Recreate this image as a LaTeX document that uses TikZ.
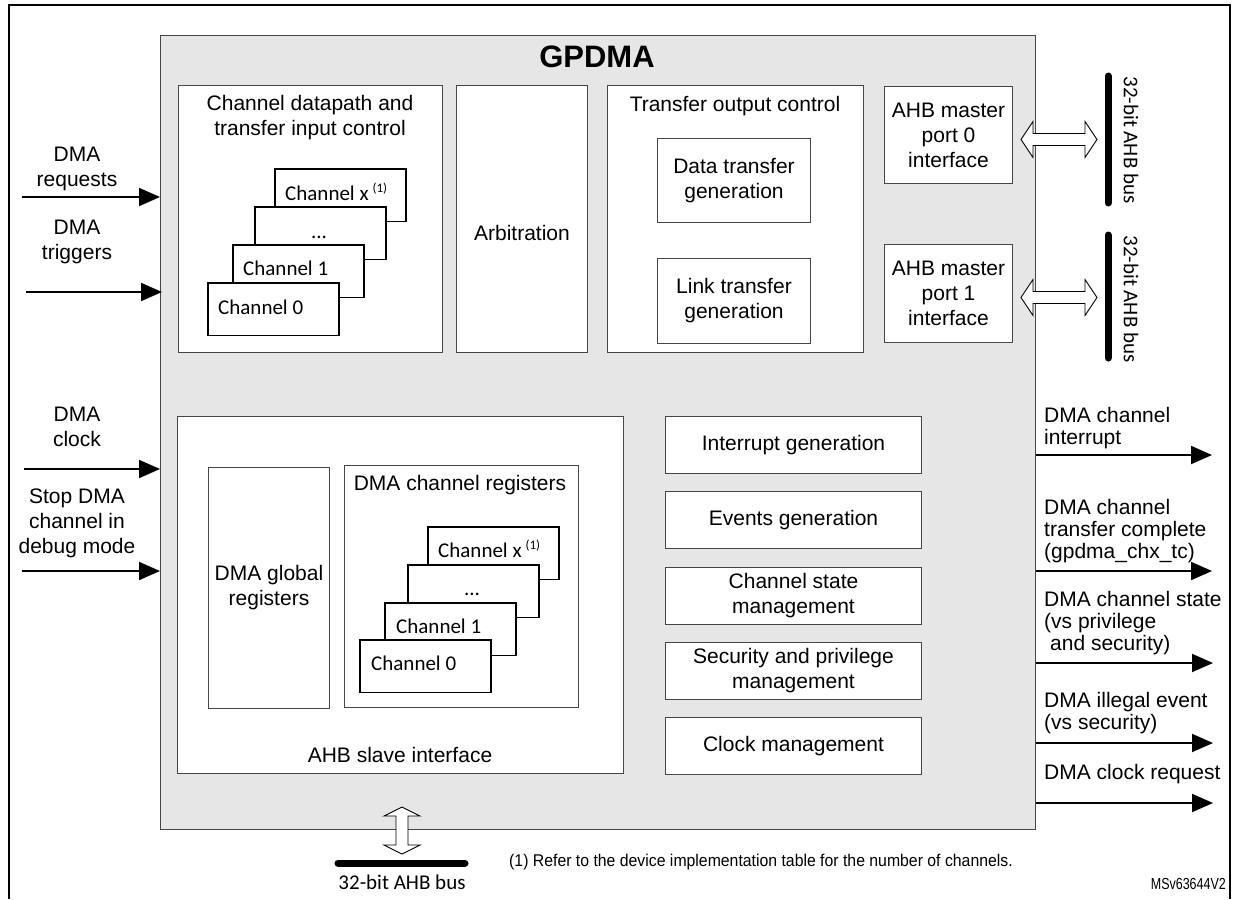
\documentclass[tikz,border=0pt]{standalone}
\usepackage{fontspec}
\usepackage{graphicx}
\setmainfont{Liberation Sans}
\newfontfamily\carlito{Carlito}
\usetikzlibrary{arrows.meta,calc}
\definecolor{bg}{RGB}{230,230,230}
\definecolor{edge}{RGB}{70,70,70}
\tikzset{
 fs/.style={font=\fontsize{21}{25}\selectfont},
 blk/.style={draw=edge, line width=1pt, fill=white, anchor=north west, inner sep=0, fs, align=center},
 chbox/.style={draw=black, line width=1.6pt, fill=white, anchor=north west, minimum width=131pt, minimum height=52.5pt, inner sep=0},
 chtxt/.style={anchor=base west, inner sep=0, font=\carlito\fontsize{21}{21}\selectfont},
 lbl/.style={inner sep=0, fs, align=center},
 inarr/.style={line width=2pt, -{Triangle[length=21pt,width=18pt]}},
 bus/.style={line width=7pt, line cap=round},
 hollow/.style={draw=black, line width=0.9pt, fill=white, line join=miter},
 outlbl/.style={inner sep=0, anchor=north west, align=left, font=\fontsize{21}{22}\selectfont},
 buslbl/.style={inner sep=0, font=\carlito\fontsize{21}{21}\selectfont},
}
\newcommand\hollowH[2]{\draw[hollow] let \p1=(#1), \p2=(#2) in (\x1,\y1) -- ++(12pt,18pt) -- ++(0,-12pt) -- (\x2-12pt,\y1+6pt) -- ++(0,12pt) -- (\x2,\y1) -- ++(-12pt,-18pt) -- ++(0,12pt) -- (\x1+12pt,\y1-6pt) -- ++(0,-12pt) -- cycle;}
\newcommand\hollowV[2]{\draw[hollow] let \p1=(#1), \p2=(#2) in (\x1,\y1) -- ++(18pt,-9pt) -- ++(-12pt,0) -- (\x1+6pt,\y2+9pt) -- ++(12pt,0) -- (\x1,\y2) -- ++(-18pt,9pt) -- ++(12pt,0) -- (\x1-6pt,\y1-9pt) -- ++(-12pt,0) -- cycle;}
\newcommand\supone{\hspace{4pt}\raisebox{8pt}{\fontsize{13}{13}\selectfont(1)}}
\begin{document}
\begin{tikzpicture}[x=1pt,y=-1pt]
\useasboundingbox (0,0) rectangle (1236,899);
% outer frame
\draw[line width=2.2pt] (9,899) -- (9,5) -- (1230,5) -- (1230,899);

% GPDMA block
\node[draw=edge, fill=bg, line width=1pt, anchor=north west, minimum width=875pt, minimum height=794pt, inner sep=0] (gp) at (160,35) {};
\node[inner sep=0, font=\bfseries\fontsize{31}{31}\selectfont] (title) at (597,57) {GPDMA};

% Channel datapath
\node[blk, minimum width=264pt, minimum height=267pt] (cdp) at (178,85) {};
\node[lbl, anchor=north] (cdpt) at (310,95.5) {Channel datapath and\\transfer input control};
\node[chbox] (chx) at (274,168) {};
\node[chbox] (chd) at (254,206) {};
\node[chbox] (ch1) at (232,244) {};
\node[chbox] (ch0) at (207,282) {};
\node[chtxt] (chxt) at ($(chx.north west)+(11,32)$) {Channel x\supone};
\node[chtxt, anchor=base] (chdt) at ($(chd.north west)+(65,32)$) {...};
\node[chtxt] (ch1t) at ($(ch1.north west)+(11,31)$) {Channel 1};
\node[chtxt] (ch0t) at ($(ch0.north west)+(11,32)$) {Channel 0};

% Arbitration
\node[blk, minimum width=131pt, minimum height=267pt] (arb) at (456,85) {};
\node[lbl] (arbt) at (522,233) {Arbitration};

% Transfer output control
\node[blk, minimum width=256pt, minimum height=267pt] (toc) at (607,85) {};
\node[lbl, anchor=north] (toct) at (735,96.5) {Transfer output control};
\node[blk, minimum width=153pt, minimum height=84pt] (dtg) at (657,138) {Data transfer\\generation};
\node[blk, minimum width=153pt, minimum height=85pt] (ltg) at (657,258) {Link transfer\\generation};

% AHB master ports
\node[blk, minimum width=128pt, minimum height=97pt] (ahb0) at (884,86) {AHB master\\port 0\\interface};
\node[blk, minimum width=128pt, minimum height=98pt] (ahb1) at (884,244) {AHB master\\port 1\\interface};

% buses on the right
\coordinate (b0t) at (1108,76); \coordinate (b0b) at (1108,203);
\coordinate (b1t) at (1108,235); \coordinate (b1b) at (1108,358);
\draw[bus] (b0t) -- (b0b);
\draw[bus] (b1t) -- (b1b);
\node[buslbl, rotate=-90] (bl0) at (1131,140) {32-bit AHB bus};
\node[buslbl, rotate=-90] (bl1) at (1131,299) {32-bit AHB bus};
\coordinate (a0l) at ($(ahb0.east)+(8,4.5)$);
\coordinate (a0r) at ($(b0t |- a0l)+(-11,0)$);
\coordinate (a1l) at ($(ahb1.east)+(8,4)$);
\coordinate (a1r) at ($(b1t |- a1l)+(-11,0)$);
\hollowH{a0l}{a0r}
\hollowH{a1l}{a1r}

% AHB slave interface
\node[blk, minimum width=446pt, minimum height=357pt] (ahbs) at (177,416) {};
\node[lbl] (ahbst) at (400,755) {AHB slave interface};
\node[blk, minimum width=121pt, minimum height=241pt] (dgr) at (208,467) {DMA global\\registers};
\node[blk, minimum width=234pt, minimum height=242pt] (dcr) at (344,465) {};
\node[lbl, anchor=north] (dcrt) at (460,475.5) {DMA channel registers};
\node[chbox] (rchx) at (427,526) {};
\node[chbox] (rchd) at (407,564) {};
\node[chbox] (rch1) at (384,602) {};
\node[chbox] (rch0) at (359,639) {};
\node[chtxt] (rchxt) at ($(rchx.north west)+(11,31)$) {Channel x\supone};
\node[chtxt, anchor=base] (rchdt) at ($(rchd.north west)+(65,31)$) {...};
\node[chtxt] (rch1t) at ($(rch1.north west)+(12,31)$) {Channel 1};
\node[chtxt] (rch0t) at ($(rch0.north west)+(12,31)$) {Channel 0};

% right column modules
\node[blk, minimum width=256pt, minimum height=57pt] (intg) at (665,416) {Interrupt generation};
\node[blk, minimum width=256pt, minimum height=57pt] (evg) at (665,491) {Events generation};
\node[blk, minimum width=256pt, minimum height=57pt] (csm) at (665,567) {Channel state\\management};
\node[blk, minimum width=256pt, minimum height=57pt] (spm) at (665,642) {Security and privilege\\management};
\node[blk, minimum width=256pt, minimum height=57pt] (clm) at (665,717) {Clock management};

% bottom bus
\coordinate (b2l) at (338,863); \coordinate (b2r) at (465,863);
\draw[bus] (b2l) -- (b2r);
\coordinate (a2t) at (402,807);
\coordinate (a2b) at ($(b2l -| a2t)+(0,-9)$);
\hollowV{a2t}{a2b}
\node[buslbl] (bl2) at (402,882) {32-bit AHB bus};

% left inputs
\node[lbl, anchor=north] (l1) at (77,147) {DMA\\requests};
\node[lbl, anchor=north] (l2) at (77,220) {DMA\\triggers};
\node[lbl, anchor=north] (l3) at (77,407) {DMA\\clock};
\node[lbl, anchor=north] (l4) at (77,489) {Stop DMA\\channel in\\debug mode};
\coordinate (i1) at (22,197);
\coordinate (i2) at (26,292);
\coordinate (i3) at (24,469);
\coordinate (i4) at (22,571);
\draw[inarr] (i1) -- (i1 -| gp.west);
\draw[inarr] (i2) -- ($(i2 -| gp.west)+(2,0)$);
\draw[inarr] (i3) -- (i3 -| gp.west);
\draw[inarr] (i4) -- (i4 -| gp.west);

% right outputs
\coordinate (o1) at (1212,455);
\coordinate (o2) at (1212,571);
\coordinate (o3) at (1213,663);
\coordinate (o4) at (1213,743);
\coordinate (o5) at (1213,803);
\draw[inarr] (o1 -| gp.east) -- (o1);
\draw[inarr] (o2 -| gp.east) -- (o2);
\draw[inarr] (o3 -| gp.east) -- (o3);
\draw[inarr] (o4 -| gp.east) -- (o4);
\draw[inarr] (o5 -| gp.east) -- (o5);
\node[outlbl] (r1) at (1044,407) {DMA channel\\interrupt};
\node[outlbl] (r2) at (1044,499) {DMA channel\\transfer complete\\(gpdma\_chx\_tc)};
\node[outlbl] (r3) at (1044,591) {DMA channel state\\(vs privilege\\\hspace*{6pt}and security)};
\node[outlbl] (r4) at (1044,692) {DMA illegal event\\(vs security)};
\node[outlbl] (r5) at (1044,764) {DMA clock request};

% footnote and reference
\node[anchor=west, inner sep=0, font=\fontsize{17}{17}\selectfont] (fn) at (509,862) {\scalebox{0.93}[1]{(1) Refer to the device implementation table for the number of channels.}};
\node[anchor=east, inner sep=0, font=\fontsize{16}{16}\selectfont] (ms) at (1226,884) {\scalebox{0.78}[1]{MSv63644V2}};
\end{tikzpicture}
\end{document}
